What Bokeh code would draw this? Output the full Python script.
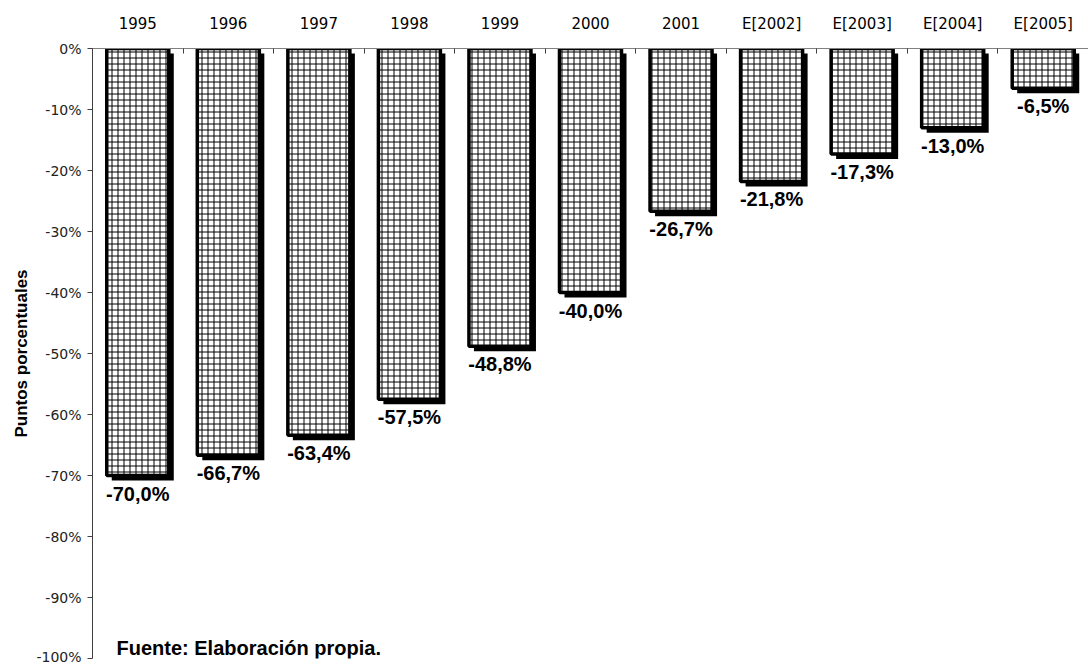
from bokeh.plotting import figure
from bokeh.models import Range1d, FixedTicker, PrintfTickFormatter, Label
from bokeh.embed import file_html
from bokeh.resources import INLINE
from bokeh.core.properties import value

categories = ["1995", "1996", "1997", "1998", "1999", "2000", "2001",
              "E[2002]", "E[2003]", "E[2004]", "E[2005]"]
values = [-70.0, -66.7, -63.4, -57.5, -48.8, -40.0, -26.7, -21.8, -17.3, -13.0, -6.5]
y_ticks = [0, -10, -20, -30, -40, -50, -60, -70, -80, -90, -100]
y_title = "Puntos porcentuales"
source_note = "Fuente: Elaboración propia."

n = len(categories)
centers = [i + 0.5 for i in range(n)]
boundaries = list(range(n + 1))
labels = [f"{v:.1f}".replace(".", ",") + "%" for v in values]

W, H = 1088, 664
LEFT, TOP, BOTTOM = 92, 48, 6
px_x = (W - LEFT) / n          # pixels per category
px_y = (H - TOP - BOTTOM) / 100.0       # pixels per percentage point
bar_w = 0.685
shadow_px = 5
dx = shadow_px / px_x
dy = shadow_px / px_y

p = figure(width=W, height=H, x_range=Range1d(0, n), y_range=Range1d(-100, 0),
           x_axis_location="above", output_backend="svg", toolbar_location=None,
           min_border_left=LEFT, min_border_top=TOP, min_border_right=0,
           min_border_bottom=BOTTOM)
p.outline_line_color = None
p.grid.grid_line_color = None
p.background_fill_color = "white"
p.border_fill_color = "white"

# shadow
p.vbar(x=[c + dx for c in centers], top=[-dy] * n, bottom=[v - dy for v in values],
       width=bar_w, fill_color="black", line_color=None)
# bars
p.vbar(x=centers, top=[0] * n, bottom=values, width=bar_w,
       fill_color="white", line_color="black", line_width=3.5,
       hatch_pattern="+", hatch_scale=6, hatch_weight=1, hatch_color="black")

p.text(x=centers, y=values, text=labels, text_align="center", text_baseline="top",
       y_offset=7, text_font=value("Liberation Sans"), text_font_style="bold",
       text_font_size="20px", text_color="black")

xa = p.xaxis[0]
xa.ticker = FixedTicker(ticks=centers, minor_ticks=boundaries)
xa.major_label_overrides = {c: cat for c, cat in zip(centers, categories)}
xa.major_tick_in = 0
xa.major_tick_out = 0
xa.minor_tick_in = 5
xa.minor_tick_out = 0
xa.minor_tick_line_color = "#404040"
xa.axis_line_color = "#808080"
xa.major_label_text_font = "DejaVu Sans"
xa.major_label_text_font_size = "15px"
xa.major_label_text_color = "black"
xa.major_label_standoff = 16

ya = p.yaxis[0]
ya.ticker = FixedTicker(ticks=y_ticks)
ya.formatter = PrintfTickFormatter(format="%d%%")
ya.major_tick_in = 0
ya.major_tick_out = 5
ya.minor_tick_line_color = None
ya.axis_line_color = "#404040"
ya.major_tick_line_color = "#404040"
ya.major_label_text_font = "DejaVu Sans"
ya.major_label_text_font_size = "14px"
ya.major_label_text_color = "#222222"
ya.major_label_standoff = 6
ya.axis_label = y_title
ya.axis_label_text_font = "Liberation Sans"
ya.axis_label_text_font_style = "bold"
ya.axis_label_text_font_size = "17px"
ya.axis_label_text_color = "black"
ya.axis_label_standoff = 2

p.add_layout(Label(x=0.265, y=-98.2, text=source_note, text_font="Liberation Sans",
                   text_font_style="bold", text_font_size="20px", text_color="black",
                   text_baseline="alphabetic"))

open("out.html", "w").write(file_html(p, INLINE))
